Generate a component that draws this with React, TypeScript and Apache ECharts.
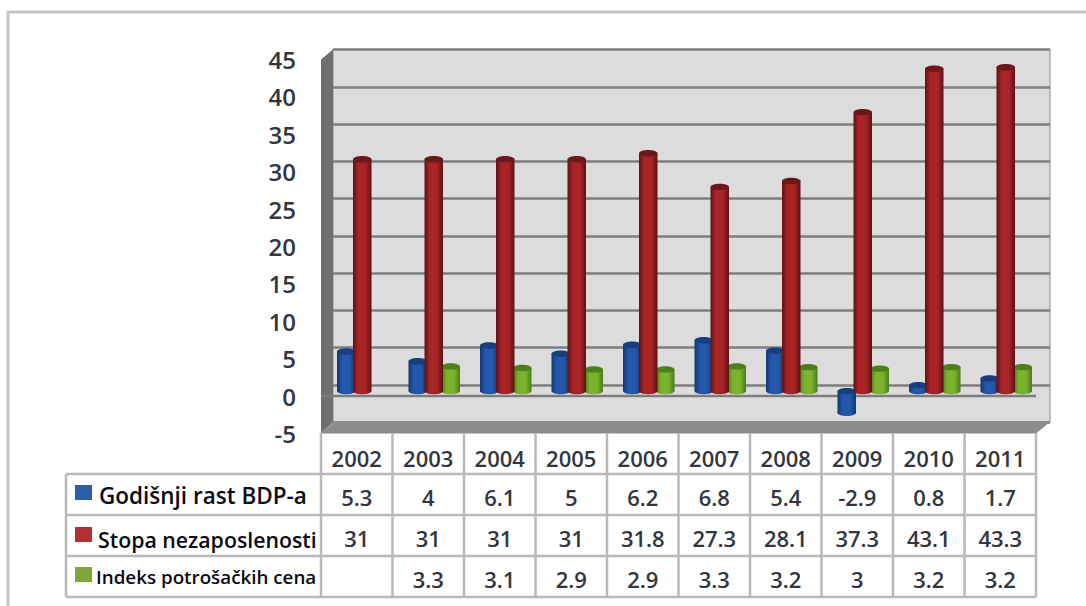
import React, { useEffect, useRef } from "react";
import * as echarts from "echarts";

const years = ["2002", "2003", "2004", "2005", "2006", "2007", "2008", "2009", "2010", "2011"];
const gdp = [5.3, 4, 6.1, 5, 6.2, 6.8, 5.4, -2.9, 0.8, 1.7];
const unemployment = [31, 31, 31, 31, 31.8, 27.3, 28.1, 37.3, 43.1, 43.3];
const cpi: (number | null)[] = [null, 3.3, 3.1, 2.9, 2.9, 3.3, 3.2, 3, 3.2, 3.2];
const legendNames = ["Godišnji rast BDP-a", "Stopa nezaposlenosti", "Indeks potrošačkih cena"];
const yMin = -5;
const yMax = 45;
const yStep = 5;

const W = 1086;
const H = 606;
const FONT = '"Open Sans", "Noto Sans", sans-serif';
const TXT = "#33363f";
const LINE = "#b9b9b9";

const colLeft = 321;
const colRight = 1036;
const colW = (colRight - colLeft) / years.length;
const rowY = [474, 515, 556, 597];

const palette = [
  { edge: "#14366f", mid: "#2358ad", top: "#173f80", key: "#2f5ea8" },
  { edge: "#5a1315", mid: "#a82427", top: "#6c1719", key: "#b03034" },
  { edge: "#4a7a18", mid: "#7cb32e", top: "#4f7f1a", key: "#7fa63a" },
];

function barRenderer(offset: number, c: (typeof palette)[number]) {
  return (_: any, api: any) => {
    const v = api.value(1);
    if (v == null || Number.isNaN(v)) return null;
    const [cx, yv] = api.coord([api.value(0), v]);
    const [, y0] = api.coord([api.value(0), 0]);
    const bw = 18.5;
    const rx = bw / 2;
    const ry = 3.2;
    const x = cx + offset - rx;
    const fill = new echarts.graphic.LinearGradient(0, 0, 1, 0, [
      { offset: 0, color: c.edge },
      { offset: 0.28, color: c.mid },
      { offset: 0.68, color: c.mid },
      { offset: 1, color: c.edge },
    ]);
    const top = Math.min(yv, y0);
    const bottom = Math.max(yv, y0);
    return {
      type: "group",
      children: [
        { type: "ellipse", shape: { cx: x + rx, cy: bottom, rx, ry }, style: { fill } },
        { type: "rect", shape: { x, y: top, width: bw, height: bottom - top }, style: { fill } },
        { type: "ellipse", shape: { cx: x + rx, cy: top, rx, ry }, style: { fill: c.top } },
      ],
    };
  };
}

function App() {
  const ref = useRef<HTMLDivElement>(null);
  useEffect(() => {
    if (!ref.current) return;
    const chart = echarts.init(ref.current, undefined, { renderer: "svg" });

    const hline = (x1: number, y: number, x2: number, color = LINE, width = 2.5) => ({
      type: "line",
      z: 1,
      shape: { x1, y1: y, x2, y2: y },
      style: { stroke: color, lineWidth: width },
    });
    const vline = (x: number, y1: number, y2: number, color = LINE, width = 2.5) => ({
      type: "line",
      z: 1,
      shape: { x1: x, y1, x2: x, y2 },
      style: { stroke: color, lineWidth: width },
    });

    const rows = [gdp, unemployment, cpi];
    const tableCells: any[] = [];
    rows.forEach((row, r) => {
      row.forEach((v, i) => {
        if (v == null) return;
        tableCells.push({
          type: "text",
          z: 5,
          x: colLeft + colW * (i + 0.5),
          y: (rowY[r] + rowY[r + 1]) / 2 + 2,
          style: {
            text: String(v),
            fill: TXT,
            font: `600 22px ${FONT}`,
            textAlign: "center",
            textVerticalAlign: "middle",
          },
        });
      });
    });

    const legendLayout = [
      { keyY: 485, textX: 99, textY: 495, size: 22.5 },
      { keyY: 527, textX: 98, textY: 539, size: 21.3 },
      { keyY: 567, textX: 96, textY: 577, size: 18.8 },
    ];
    const legendItems: any[] = [];
    legendNames.forEach((name, i) => {
      const l = legendLayout[i];
      legendItems.push({
        type: "rect",
        z: 5,
        shape: { x: 75, y: l.keyY, width: 17, height: 15 },
        style: { fill: palette[i].key },
      });
      legendItems.push({
        type: "text",
        z: 5,
        x: l.textX,
        y: l.textY,
        style: {
          text: name,
          fill: "#0a0a14",
          font: `600 ${l.size}px ${FONT}`,
          textAlign: "left",
          textVerticalAlign: "middle",
        },
      });
    });

    const tableLines: any[] = [
      hline(7, 12, W, "#c4c4c4", 3),
      vline(8, 12, H, "#c4c4c4", 3),
      hline(66, rowY[0], colRight),
      hline(66, rowY[1], colRight),
      hline(66, rowY[2], colRight),
      hline(66, rowY[3], colRight),
      vline(66, rowY[0], rowY[3]),
    ];
    for (let i = 0; i <= years.length; i++) {
      tableLines.push(vline(colLeft + colW * i, 433, rowY[3]));
    }

    const yAxisBase = { type: "value", min: yMin, max: yMax, interval: yStep };

    chart.setOption({
      animation: false,
      backgroundColor: "#ffffff",
      grid: [
        {
          left: 333,
          width: 717,
          top: 49.5,
          height: 372.5,
          show: true,
          backgroundColor: "#dcdcdc",
          borderColor: "#8a8a8a",
          borderWidth: 1,
        },
        { left: colLeft, width: colRight - colLeft, top: 59.5, height: 374 },
        { left: colLeft + 5.5, width: colRight - colLeft, top: 54.5, height: 374 },
      ],
      xAxis: [
        { type: "category", data: years, gridIndex: 0, show: false },
        {
          type: "category",
          data: years,
          gridIndex: 1,
          axisLine: { show: false },
          axisTick: { show: false },
          axisLabel: {
            color: TXT,
            fontFamily: FONT,
            fontWeight: 600,
            fontSize: 22,
            margin: 13,
          },
        },
        { type: "category", data: years, gridIndex: 2, show: false },
      ],
      yAxis: [
        {
          ...yAxisBase,
          gridIndex: 0,
          axisLine: { show: false },
          axisTick: { show: false },
          axisLabel: { show: false },
          splitLine: { show: true, lineStyle: { color: "#7e7e7e", width: 2.5 } },
        },
        {
          ...yAxisBase,
          gridIndex: 1,
          axisLine: { show: false },
          axisTick: { show: false },
          splitLine: { show: false },
          axisLabel: {
            color: TXT,
            fontFamily: FONT,
            fontWeight: 600,
            fontSize: 24,
            margin: 25,
          },
        },
        { ...yAxisBase, gridIndex: 2, show: false, splitLine: { show: false } },
      ],
      graphic: [
        {
          type: "polygon",
          z: 1,
          shape: { points: [[321, 59.5], [333, 49.5], [333, 422], [321, 433.5]] },
          style: { fill: "#6f6f6f" },
        },
        {
          type: "polygon",
          z: 1,
          shape: { points: [[321, 433.5], [333, 422], [1050, 422], [1036, 433.5]] },
          style: { fill: "#8c8c8c" },
        },
        hline(321, 396, colRight, "#7c7c7c", 2.5),
        ...tableLines,
        ...legendItems,
        ...tableCells,
      ],
      series: [
        {
          type: "custom",
          name: legendNames[0],
          xAxisIndex: 2,
          yAxisIndex: 2,
          clip: false,
          z: 3,
          data: gdp.map((v, i) => [i, v]),
          renderItem: barRenderer(-16, palette[0]),
        },
        {
          type: "custom",
          name: legendNames[2],
          xAxisIndex: 2,
          yAxisIndex: 2,
          clip: false,
          z: 3,
          data: cpi.map((v, i) => [i, v]),
          renderItem: barRenderer(17, palette[2]),
        },
        {
          type: "custom",
          name: legendNames[1],
          xAxisIndex: 2,
          yAxisIndex: 2,
          clip: false,
          z: 4,
          data: unemployment.map((v, i) => [i, v]),
          renderItem: barRenderer(0, palette[1]),
        },
      ],
    });
    return () => chart.dispose();
  }, []);
  return (
    <div
      ref={ref}
      style={{ position: "absolute", left: 0, top: 0, width: W, height: H }}
    />
  );
}

export default App;
